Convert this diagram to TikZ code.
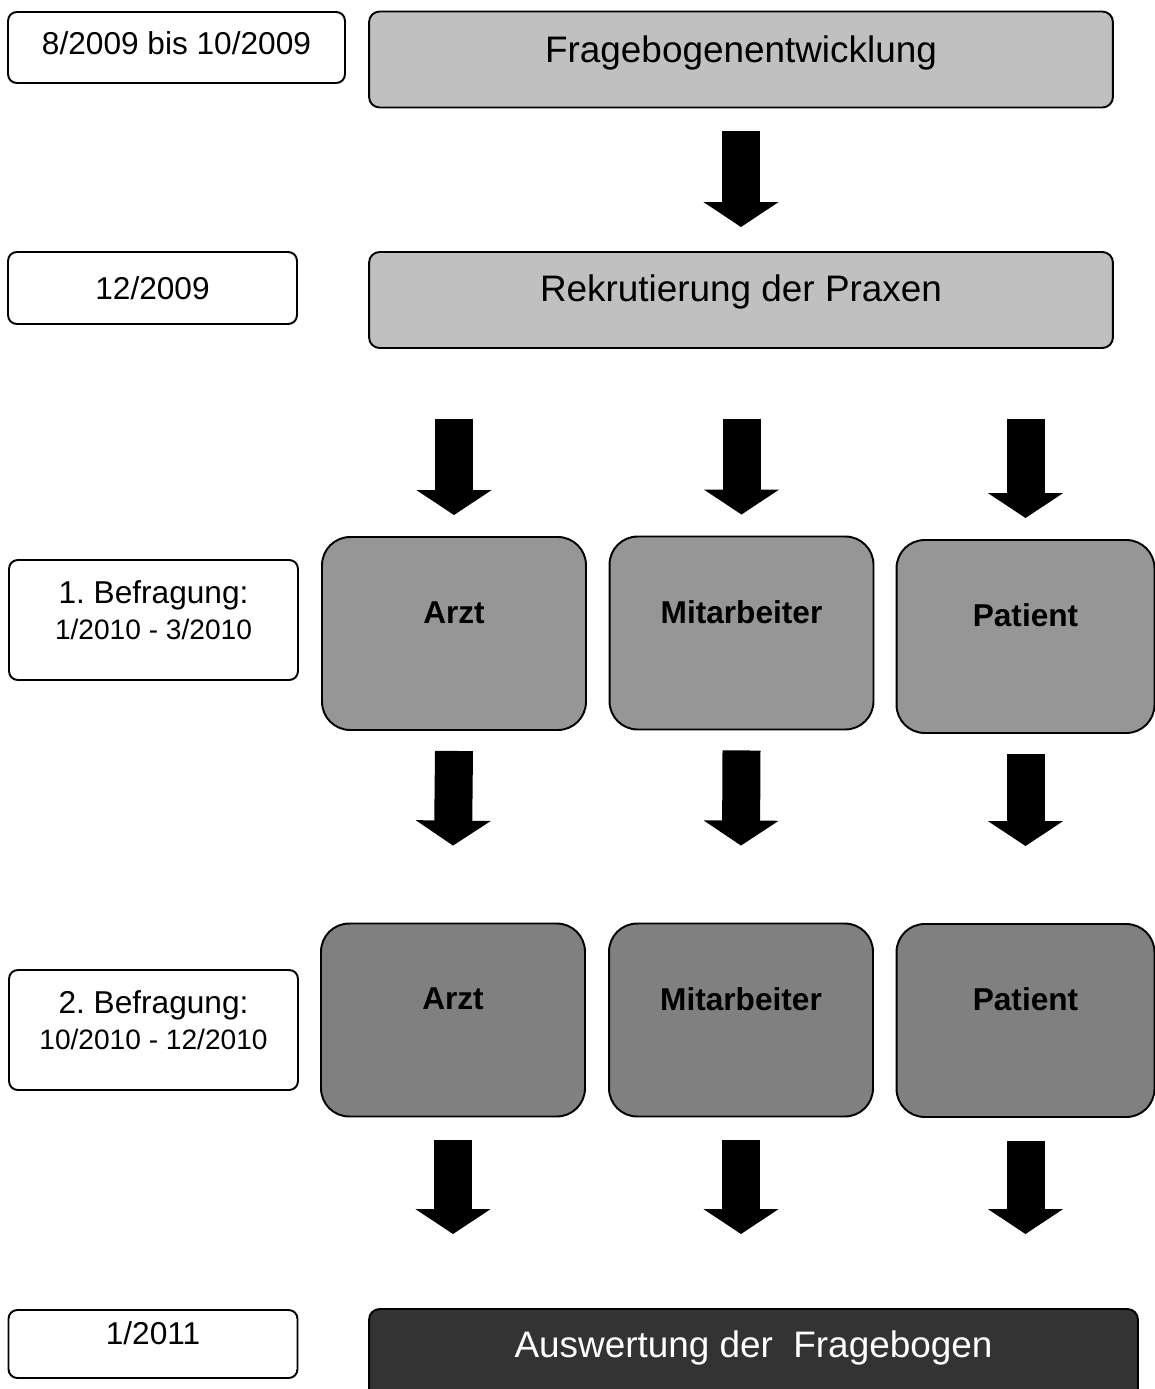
\documentclass[tikz,border=0pt]{standalone}
\usepackage{fontspec}
\setmainfont{Liberation Sans}
\frenchspacing
\usetikzlibrary{positioning, arrows.meta, calc}
\definecolor{gLight}{HTML}{C0C0C0}
\definecolor{gMid}{HTML}{969696}
\definecolor{gDark}{HTML}{808080}
\definecolor{gDeep}{HTML}{333333}

\begin{document}
\begin{tikzpicture}[
  x=0.02cm, y=-0.02cm,
  every node/.style={font=\fontsize{18}{20.5}\selectfont, inner sep=0pt},
  datebox/.style={draw=black, line width=1.1pt, fill=white, rounded corners=5pt,
                  minimum width=5.78cm, align=center},
  phase/.style={draw=black, line width=1.1pt, fill=gLight, rounded corners=6pt,
                minimum width=14.88cm, minimum height=1.92cm,
                font=\fontsize{21}{25}\selectfont},
  group/.style={draw=black, line width=1.1pt, rounded corners=16pt,
                minimum width=5.28cm, minimum height=3.86cm,
                font=\fontsize{18}{21}\selectfont\bfseries, text depth=0.84cm},
  blk/.style={line width=0.76cm, -{Triangle[width=1.48cm, length=0.5cm]}},
]
  \useasboundingbox (0,0) rectangle (1155,1389);

  % Dates
  \node[datebox, minimum width=6.74cm, minimum height=1.42cm, text depth=0.18cm] (d1) at (176.5,47.5) {8/2009 bis 10/2009};
  \node[datebox, minimum height=1.44cm] (d2) at (152.5,288) {12/2009};
  \node[datebox, minimum height=2.4cm, text depth=0.38cm] (d3) at (153.5,620) {1. Befragung:\\{\fontsize{16}{20.5}\selectfont 1/2010 - 3/2010}};
  \node[datebox, minimum height=2.4cm, text depth=0.4cm] (d4) at (153.5,1030) {2. Befragung:\\{\fontsize{16}{20.5}\selectfont 10/2010 - 12/2010}};
  \node[datebox, minimum height=1.36cm, text depth=0.45cm] (d5) at (153,1344) {1/2011};

  % Phases
  \node[phase, text depth=0.4cm] (frage) at (741,59.5) {Fragebogenentwicklung};
  \node[phase, text depth=0.46cm] (rekr) at (741,300) {Rekrutierung der Praxen};
  \node[phase, fill=gDeep, text=white, minimum width=15.38cm, text depth=0.5cm] (ausw) at (753.5,1357) {Auswertung der~~Fragebogen};

  % 1. Befragung
  \node[group, fill=gMid] (arzt1) at (454,633.5) {Arzt};
  \node[group, fill=gMid] (mit1) at (741.5,633) {Mitarbeiter};
  \node[group, fill=gMid, minimum width=5.16cm] (pat1) at (1025.5,636.5) {Patient};

  % 2. Befragung
  \node[group, fill=gDark] (arzt2) at (453,1020) {Arzt};
  \node[group, fill=gDark] (mit2) at (741,1020) {Mitarbeiter};
  \node[group, fill=gDark, minimum width=5.16cm] (pat2) at (1025.5,1020.5) {Patient};

  % Arrows
  \draw[blk] ($(frage.south)+(0,23)$) -- ($(rekr.north)+(0,-24)$);
  \foreach \n in {arzt1, mit1, pat1}
    \draw[blk] ($(rekr.south -| \n)+(0,70)$) -- ($(\n.north)+(0,-21)$);
  \foreach \a/\b in {arzt1/arzt2, mit1/mit2, pat1/pat2}
    \draw[blk] ($(\a.south)+(0,20)$) -- ($(\b.north)+(0,-77)$);
  \foreach \a in {arzt2, mit2, pat2}
    \draw[blk] ($(\a.south)+(0,23)$) -- ($(\a.south |- ausw.north)+(0,-74)$);
\end{tikzpicture}
\end{document}
